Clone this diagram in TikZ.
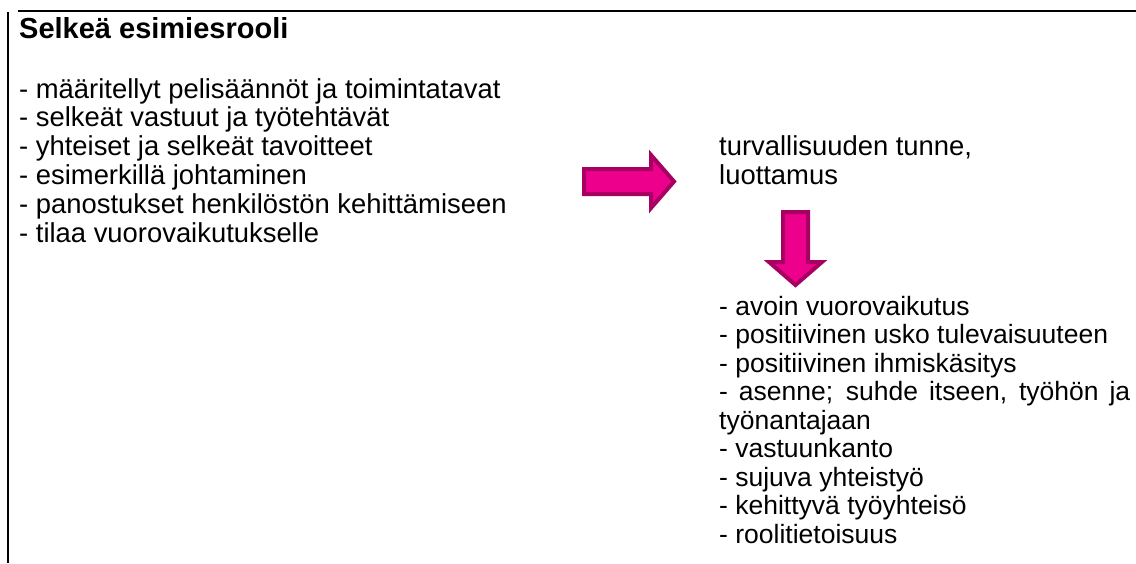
\documentclass[tikz,border=0pt]{standalone}
\usepackage{fontspec}
\setmainfont{Liberation Sans}
\definecolor{arrowfill}{RGB}{236,0,140}
\definecolor{arrowedge}{RGB}{168,0,98}
\tikzset{
  body/.style={anchor=base west, inner sep=0pt, font=\fontsize{26.5}{28}\selectfont},
  bodyL/.style={anchor=base west, inner sep=0pt, font=\fontsize{27.4}{29}\selectfont},
  heading/.style={anchor=base west, inner sep=0pt, font=\fontsize{29}{31}\selectfont\bfseries},
  blockarrow/.style={fill=arrowfill, draw=arrowedge, line width=4pt, line join=miter},
  rule/.style={line width=2.5pt, black}
}
\begin{document}
\begin{tikzpicture}[x=1pt,y=-1pt]
\useasboundingbox (0,0) rectangle (1136,563);
% frame lines
\coordinate (topL) at (18,11);
\coordinate (topR) at (1136,11);
\coordinate (vT) at (7.5,12);
\coordinate (vB) at (7.5,563);
\draw[rule] (topL) -- (topR);
\draw[line width=2pt] (vT) -- (vB);
% title
\node[heading] (title) at (19,38) {Selkeä esimiesrooli};
% left list
\node[bodyL] (l1) at (19,98) {- määritellyt pelisäännöt ja toimintatavat};
\node[bodyL] (l2) at (19,126.8) {- selkeät vastuut ja työtehtävät};
\node[bodyL] (l3) at (19,155.6) {- yhteiset ja selkeät tavoitteet};
\node[bodyL] (l4) at (19,184.4) {- esimerkillä johtaminen};
\node[bodyL] (l5) at (19,213.2) {- panostukset henkilöstön kehittämiseen};
\node[bodyL] (l6) at (19,242) {- tilaa vuorovaikutukselle};
% middle
\node[bodyL] (m1) at (719,155.6) {turvallisuuden tunne,};
\node[bodyL] (m2) at (719,184.4) {luottamus};
% right list
\node[body] (r1) at (719,315) {- avoin vuorovaikutus};
\node[body] (r2) at (719,343.5) {- positiivinen usko tulevaisuuteen};
\node[body] (r3) at (719,372) {- positiivinen ihmiskäsitys};
\node[body] (r4) at (719,400.5) {\makebox[411pt][s]{- asenne; suhde itseen, työhön ja}};
\node[body] (r5) at (719,429) {työnantajaan};
\node[body] (r6) at (719,457.5) {- vastuunkanto};
\node[body] (r7) at (719,486) {- sujuva yhteistyö};
\node[body] (r8) at (719,514.5) {- kehittyvä työyhteisö};
\node[body] (r9) at (719,543) {- roolitietoisuus};
% block arrows
\draw[blockarrow] (584,169) -- (651,169) -- (651,155) -- (674,181.5) -- (651,208) -- (651,194) -- (584,194) -- cycle;
\draw[blockarrow] (783,212) -- (808,212) -- (808,262) -- (822,262) -- (795.5,285) -- (769,262) -- (783,262) -- cycle;
\end{tikzpicture}
\end{document}
